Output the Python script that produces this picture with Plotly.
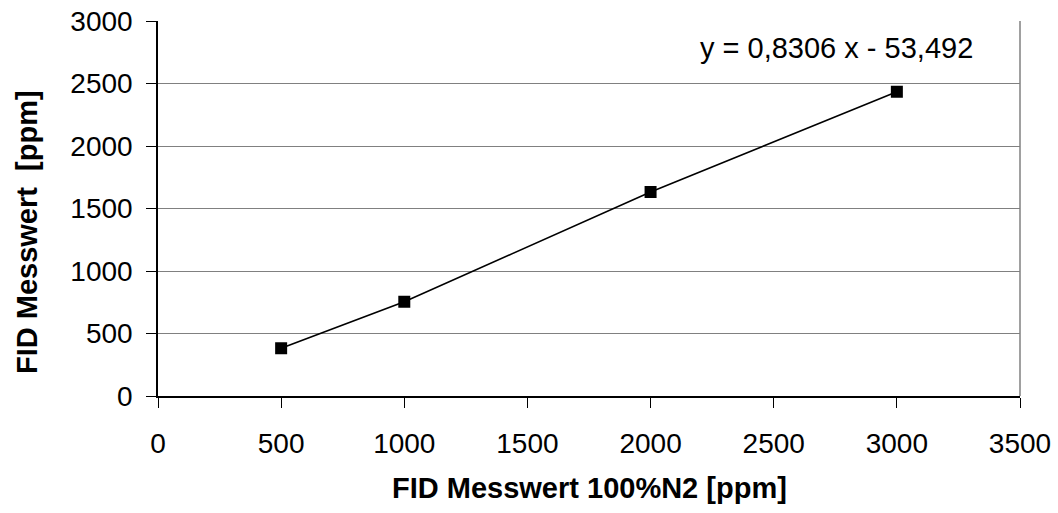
import plotly.graph_objects as go

x_vals = [500, 1000, 2000, 3000]
y_vals = [382, 754, 1632, 2434]
x_ticks = [0, 500, 1000, 1500, 2000, 2500, 3000, 3500]
y_ticks = [0, 500, 1000, 1500, 2000, 2500, 3000]
equation = "y = 0,8306 x - 53,492"
x_title = "FID Messwert 100%N2 [ppm]"
y_title = "FID Messwert  [ppm]"

FONT = "Liberation Sans, Arial, sans-serif"

fig = go.Figure()
fig.add_trace(go.Scatter(
    x=x_vals, y=y_vals, mode="lines+markers",
    line=dict(color="black", width=1.6),
    marker=dict(symbol="square", size=12, color="black"),
    showlegend=False, hoverinfo="skip",
))

fig.update_layout(
    width=1058, height=513,
    margin=dict(l=158, r=38, t=21, b=117, autoexpand=False),
    paper_bgcolor="white", plot_bgcolor="white",
    font=dict(family=FONT, size=28, color="black"),
    xaxis=dict(
        range=[0, 3500], tickvals=x_ticks, ticktext=[str(v) for v in x_ticks],
        showgrid=False, zeroline=False, automargin=False,
        showline=True, linecolor="black", linewidth=1.5,
        ticks="outside", ticklen=10, tickcolor="black", tickwidth=1.2,
        tickfont=dict(size=28, family=FONT, color="black"),
        ticklabelstandoff=12,
    ),
    yaxis=dict(
        range=[0, 3000], tickvals=y_ticks, ticktext=[str(v) for v in y_ticks],
        showgrid=True, gridcolor="#808080", gridwidth=1.2, zeroline=False,
        automargin=False,
        showline=True, linecolor="black", linewidth=1.5,
        ticks="outside", ticklen=10, tickcolor="black", tickwidth=1.2,
        tickfont=dict(size=28, family=FONT, color="black"),
        ticklabelstandoff=8,
    ),
    shapes=[
        dict(type="line", xref="paper", yref="paper", x0=1, x1=1, y0=0, y1=1,
             line=dict(color="#808080", width=1.5)),
    ],
    annotations=[
        dict(text=equation, xref="paper", yref="paper", x=(836 - 158) / 862, y=(396 - 48) / 375,
             showarrow=False, xanchor="center", yanchor="middle",
             font=dict(size=29, family=FONT, color="black")),
        dict(text="<b>" + x_title + "</b>", xref="paper", yref="paper",
             x=0.5, y=(396 - 488) / 375,
             showarrow=False, xanchor="center", yanchor="middle",
             font=dict(size=29, family=FONT, color="black")),
        dict(text="<b>" + y_title + "</b>", xref="paper", yref="paper",
             x=(27 - 158) / 862, y=(396 - 232) / 375, textangle=-90,
             showarrow=False, xanchor="center", yanchor="middle",
             font=dict(size=29, family=FONT, color="black")),
    ],
)

fig.write_html(
    "out.html",
    config={"displayModeBar": False},
    post_script="document.body.style.margin='0';document.body.style.overflow='hidden';",
)
